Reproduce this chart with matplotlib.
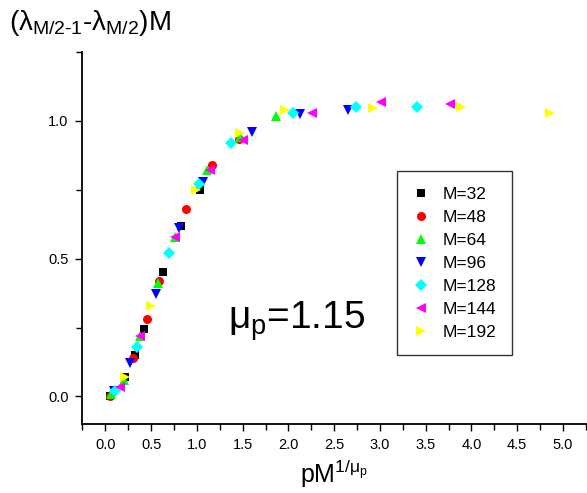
import matplotlib
matplotlib.use("Agg")
import matplotlib.pyplot as plt

plt.rcParams['font.family'] = ['Liberation Sans', 'DejaVu Sans']
plt.rcParams['mathtext.fontset'] = 'custom'
plt.rcParams['mathtext.rm'] = 'Liberation Sans'
plt.rcParams['mathtext.it'] = 'Liberation Sans'
plt.rcParams['mathtext.bf'] = 'Liberation Sans:bold'

# data, one pair of lists per system size
x32 = [0.05, 0.22, 0.32, 0.42, 0.63, 0.83, 1.03]
y32 = [0.00, 0.07, 0.15, 0.245, 0.45, 0.62, 0.75]
x48 = [0.05, 0.30, 0.45, 0.59, 0.88, 1.17, 1.46]
y48 = [0.00, 0.14, 0.28, 0.42, 0.68, 0.84, 0.935]
x64 = [0.06, 0.20, 0.38, 0.57, 0.76, 1.11, 1.47, 1.86]
y64 = [0.007, 0.06, 0.22, 0.41, 0.58, 0.82, 0.94, 1.017]
x96 = [0.09, 0.27, 0.55, 0.80, 1.07, 1.60, 2.13, 2.65]
y96 = [0.02, 0.12, 0.37, 0.61, 0.78, 0.96, 1.025, 1.04]
x128 = [0.11, 0.35, 0.69, 1.02, 1.37, 2.05, 2.74, 3.40]
y128 = [0.02, 0.18, 0.52, 0.77, 0.92, 1.03, 1.05, 1.05]
x144 = [0.16, 0.38, 0.76, 1.14, 1.50, 2.26, 3.01, 3.77]
y144 = [0.036, 0.22, 0.58, 0.82, 0.93, 1.03, 1.07, 1.06]
x192 = [0.22, 0.50, 0.99, 1.47, 1.96, 2.92, 3.89, 4.86]
y192 = [0.07, 0.33, 0.75, 0.955, 1.04, 1.045, 1.05, 1.03]

fig = plt.figure(figsize=(5.87, 4.93), dpi=100)
ax = fig.add_axes([0.1405, 0.140, 0.8575, 0.7545])

ax.plot(x32, y32, 's', color='black', ms=5.5, mew=0, label='M=32')
ax.plot(x48, y48, 'o', color='red', ms=6.5, mew=0, label='M=48')
ax.plot(x64, y64, '^', color='#00ff00', ms=7.5, mew=0, label='M=64')
ax.plot(x96, y96, 'v', color='blue', ms=7.5, mew=0, label='M=96')
ax.plot(x128, y128, 'D', color='cyan', ms=6, mew=0, label='M=128')
ax.plot(x144, y144, '<', color='magenta', ms=7.5, mew=0, label='M=144')
ax.plot(x192, y192, '>', color='yellow', ms=7.5, mew=0, label='M=192')

ax.set_xlim(-0.25, 5.25)
ax.set_ylim(-0.1, 1.25)
ax.set_xticks([0.0, 0.5, 1.0, 1.5, 2.0, 2.5, 3.0, 3.5, 4.0, 4.5, 5.0])
ax.set_xticks([i * 0.5 + 0.25 for i in range(-1, 11)], minor=True)
ax.set_yticks([0.0, 0.5, 1.0])
ax.set_yticks([0.25, 0.75, 1.25], minor=True)
ax.xaxis.set_major_formatter(matplotlib.ticker.FormatStrFormatter('%.1f'))
ax.yaxis.set_major_formatter(matplotlib.ticker.FormatStrFormatter('%.1f'))
ax.tick_params(which='both', direction='out', labelsize=10.5, width=1)
ax.tick_params(which='major', length=5, pad=5)
ax.tick_params(which='minor', length=4)
ax.spines['top'].set_visible(False)
ax.spines['right'].set_visible(False)
ax.spines['left'].set_linewidth(1.3)
ax.spines['bottom'].set_linewidth(1.3)

ax.set_xlabel(r'pM$^{1/\mu_\mathregular{p}}$', fontsize=18, labelpad=4)
fig.text(0.015, 0.953, r'($\lambda_{M/2\text{-}1}\text{-}\lambda_{M/2}$)M', fontsize=20,
         ha='left', va='center')
ax.text(1.34, 0.275, r'$\mu_\mathregular{p}$=1.15', fontsize=28, ha='left', va='center')

leg = ax.legend(loc='upper left', bbox_to_anchor=(0.625, 0.68), fontsize=12.5,
                frameon=True, fancybox=False, edgecolor='black', borderpad=0.9,
                labelspacing=0.45, handlelength=1.0, handletextpad=0.7,
                borderaxespad=0, numpoints=1)
leg.get_frame().set_linewidth(1)

fig.savefig('out.png', dpi=100)
